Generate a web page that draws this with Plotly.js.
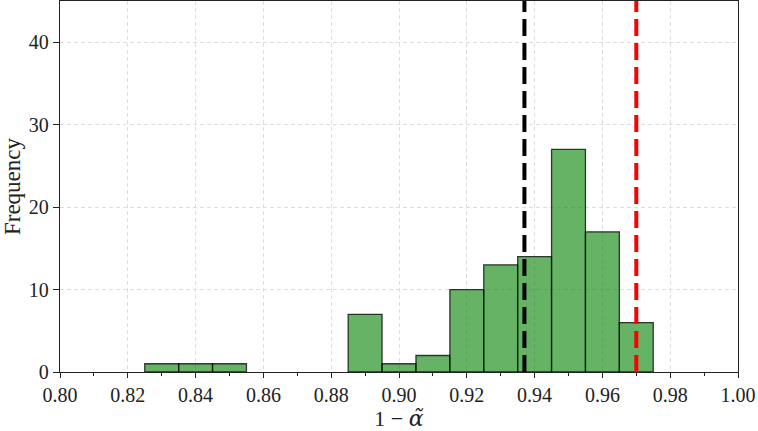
<!DOCTYPE html>
<html>
<head>
<meta charset="utf-8">
<script src="https://cdn.plot.ly/plotly-3.0.1.min.js"></script>
<style>html,body{margin:0;padding:0;background:#fff;}#chart{width:758px;height:431px;}</style>
</head>
<body>
<div id="chart"></div>
<script>
// Histogram bins (centers, width 0.01) and counts
const binCenters = [0.83, 0.84, 0.85, 0.86, 0.87, 0.88, 0.89, 0.90, 0.91, 0.92, 0.93, 0.94, 0.95, 0.96, 0.97];
const counts     = [1, 1, 1, 0, 0, 0, 7, 1, 2, 10, 13, 14, 27, 17, 6];
const binWidth = 0.01;
// Reference lines
const meanValue = 0.937;
const targetValue = 0.97;
const xTickVals = [0.80, 0.82, 0.84, 0.86, 0.88, 0.90, 0.92, 0.94, 0.96, 0.98, 1.00];
const xTickText = ["0.80", "0.82", "0.84", "0.86", "0.88", "0.90", "0.92", "0.94", "0.96", "0.98", "1.00"];
const yTickVals = [0, 10, 20, 30, 40];

const font = "Liberation Serif";
const yMax = 45;

const traces = [
  {
    type: "bar",
    x: binCenters,
    y: counts,
    width: binCenters.map(() => binWidth),
    marker: {
      color: "rgba(0,128,0,0.6)",
      line: {color: "rgba(0,0,0,0.75)", width: counts.map(c => c > 0 ? 1.3 : 0)}
    },
    hoverinfo: "x+y"
  },
  {
    type: "scatter", mode: "lines",
    x: [meanValue, meanValue], y: [0, yMax],
    line: {color: "#000000", width: 4, dash: "17px,7px"}
  },
  {
    type: "scatter", mode: "lines",
    x: [targetValue, targetValue], y: [0, yMax],
    line: {color: "#ff0000", width: 4, dash: "17px,7px"}
  }
];

const layout = {
  width: 758, height: 431,
  margin: {l: 60, r: 20, t: 1, b: 59},
  paper_bgcolor: "#ffffff",
  plot_bgcolor: "#ffffff",
  showlegend: false,
  bargap: 0,
  font: {family: font, color: "#222222", size: 20},
  xaxis: {
    range: [0.80, 1.00],
    tickvals: xTickVals, ticktext: xTickText,
    ticks: "outside", ticklen: 5, tickwidth: 1, tickcolor: "#222",
    minor: {dtick: 0.01, tick0: 0.80, ticks: "outside", ticklen: 3, tickcolor: "#222", showgrid: false},
    showgrid: true, gridcolor: "#dedede", gridwidth: 1, griddash: "4px,3px",
    showline: true, mirror: true, linecolor: "#222", linewidth: 1.3,
    zeroline: false,
    tickfont: {family: font, size: 20, color: "#222"},
    title: {
      text: "1 − <span style=\"font-family:'DejaVu Serif'\"><i>α̃</i></span>",
      font: {family: font, size: 22, color: "#222"}, standoff: 6
    }
  },
  yaxis: {
    range: [0, yMax],
    tickvals: yTickVals,
    ticks: "outside", ticklen: 6, tickwidth: 1, tickcolor: "#222",
    showgrid: true, gridcolor: "#dedede", gridwidth: 1, griddash: "4px,3px",
    showline: true, mirror: true, linecolor: "#222", linewidth: 1.3,
    zeroline: false,
    tickfont: {family: font, size: 20, color: "#222"},
    title: {text: "Frequency", font: {family: font, size: 23, color: "#222"}, standoff: 6}
  }
};

Plotly.newPlot("chart", traces, layout, {displayModeBar: false, staticPlot: true});
</script>
</body>
</html>
